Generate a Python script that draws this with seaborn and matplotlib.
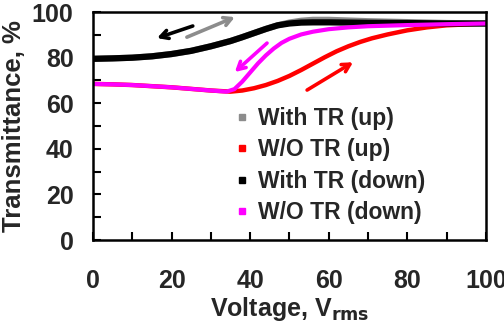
import matplotlib
matplotlib.use("Agg")
import matplotlib.pyplot as plt
import pandas as pd
import seaborn as sns
from matplotlib.lines import Line2D
from matplotlib.ticker import MultipleLocator

# =========================
# DATA
# =========================
x_with_up = [0, 5, 10, 15, 20, 25, 30, 35, 38, 41, 44, 47, 50, 53, 56, 60, 65, 70, 80, 90, 100]
y_with_up = [79.5, 79.7, 80, 80.6, 81.6, 83, 85, 87.3, 89, 90.8, 92.6, 94.2, 95.4, 96.2, 96.6, 96.6, 96.3, 96, 95.6, 95.2, 95]

x_wo_up = [0, 5, 10, 15, 20, 25, 30, 35, 38, 41, 44, 47, 50, 53, 56, 59, 62, 65, 68, 71, 75, 80, 85, 90, 100]
y_wo_up = [68.5, 68.3, 68, 67.5, 67, 66.3, 65.6, 65.1, 65.6, 66.6, 68, 69.8, 72, 74.6, 77.4, 80.2, 82.8, 85, 86.9, 88.5, 90.2, 92, 93.3, 94.2, 95]

x_with_down = [0, 5, 10, 15, 20, 25, 30, 35, 38, 41, 44, 47, 50, 53, 56, 60, 70, 80, 90, 100]
y_with_down = [79.5, 79.7, 80, 80.6, 81.6, 83, 85, 87.3, 89, 90.8, 92.6, 94.2, 95, 95.4, 95.5, 95.5, 95.3, 95.2, 95, 95]

x_wo_down = [0, 5, 10, 15, 20, 25, 30, 34, 36, 38, 40, 42, 44, 46, 48, 50, 53, 56, 60, 65, 70, 80, 90, 100]
y_wo_down = [68.5, 68.3, 68, 67.5, 67, 66.3, 65.6, 65.1, 66.2, 69.5, 73.5, 77.5, 81, 84, 86.5, 88.3, 90.2, 91.4, 92.5, 93.3, 93.8, 94.3, 94.7, 95]

labels = ["With TR (up)", "W/O TR (up)", "With TR (down)", "W/O TR (down)"]
colors = ["#8c8c8c", "#ff0000", "#000000", "#ff00ff"]
widths = [4.5, 3.2, 4.5, 3.0]

series = [(x_with_up, y_with_up), (x_wo_up, y_wo_up),
          (x_with_down, y_with_down), (x_wo_down, y_wo_down)]

frames = []
for lab, (xs, ys) in zip(labels, series):
    frames.append(pd.DataFrame({"V": xs, "T": ys, "curve": lab}))
df = pd.concat(frames, ignore_index=True)

# =========================
# PLOT
# =========================
sns.set_style("ticks")
plt.rcParams["font.family"] = ["Liberation Sans", "DejaVu Sans"]
plt.rcParams["font.weight"] = "bold"

fig = plt.figure(figsize=(5.04, 3.27), dpi=100)
ax = fig.add_axes([0.1845, 0.266, 0.7795, 0.697])

for lab, col, lw in zip(labels, colors, widths):
    sub = df[df["curve"] == lab]
    sns.lineplot(data=sub, x="V", y="T", color=col, linewidth=lw, ax=ax,
                 legend=False, solid_capstyle="round", solid_joinstyle="round")

# arrows
arrows = [((25.4, 93.9), (16.3, 88.6), "#000000"),
          ((23.9, 89.0), (36.1, 97.8), "#8c8c8c"),
          ((44.3, 86.4), (36.1, 73.7), "#ff00ff"),
          ((54.5, 65.8), (66.2, 78.0), "#ff0000")]
for start, end, col in arrows:
    ax.annotate("", xy=end, xytext=start,
                arrowprops=dict(arrowstyle="->,head_length=0.55,head_width=0.3",
                                color=col, lw=2.6, shrinkA=0, shrinkB=0))

ax.set_xlim(0, 100)
ax.set_ylim(0, 100)
ax.xaxis.set_major_locator(MultipleLocator(20))
ax.xaxis.set_minor_locator(MultipleLocator(10))
ax.yaxis.set_major_locator(MultipleLocator(20))
ax.yaxis.set_minor_locator(MultipleLocator(10))
ax.tick_params(axis="both", which="both", direction="in", width=1.5, color="black")
ax.tick_params(axis="both", which="major", length=6, labelsize=18)
ax.tick_params(axis="both", which="minor", length=6)
ax.tick_params(axis="x", which="major", pad=21)
ax.tick_params(axis="y", which="major", pad=14)
for lbl in ax.get_xticklabels() + ax.get_yticklabels():
    lbl.set_fontweight("bold")
for sp in ax.spines.values():
    sp.set_linewidth(1.8)
    sp.set_color("black")

ax.set_xlabel(r"Voltage, V$_{\mathbf{rms}}$", fontsize=18, fontweight="bold", labelpad=1)
ax.set_ylabel("Transmittance, %", fontsize=18.5, fontweight="bold", labelpad=4)

handles = [Line2D([], [], marker="s", linestyle="none", color=c, markersize=5)
           for c in colors]
ax.legend(handles, labels, loc="lower left", bbox_to_anchor=(0.315, 0.0),
          frameon=False, handletextpad=0.3, labelspacing=0.36,
          handlelength=0.8, borderpad=0.2, prop={"weight": "bold", "size": 16.5})

fig.savefig("out.png", dpi=100)
